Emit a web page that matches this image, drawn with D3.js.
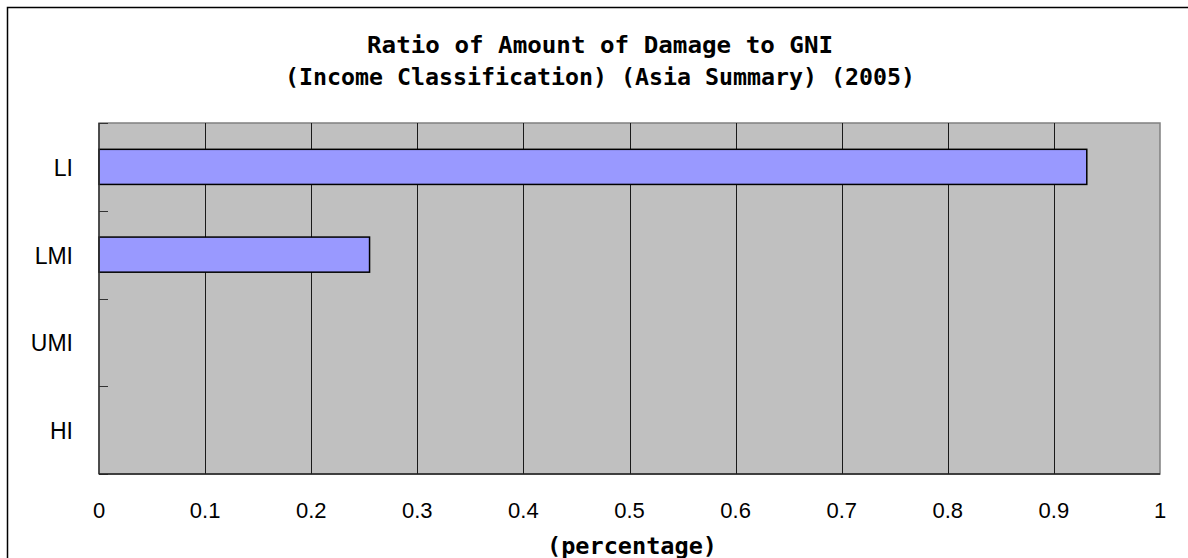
<!DOCTYPE html>
<html>
<head>
<meta charset="utf-8">
<script src="https://cdn.jsdelivr.net/npm/d3@7"></script>
<style>
  body { margin: 0; background: #fff; }
  svg { display: block; }
</style>
</head>
<body>
<script>
// chart data
var categories = ["LI", "LMI", "UMI", "HI"];
var values = [0.931, 0.255, null, null];
var xTicks = [0, 0.1, 0.2, 0.3, 0.4, 0.5, 0.6, 0.7, 0.8, 0.9, 1];
var titleLines = ["Ratio of Amount of Damage to GNI",
                  "(Income Classification) (Asia Summary) (2005)"];
var xTitle = "(percentage)";

var width = 1188, height = 558;
var plot = { left: 99, right: 1160, top: 123, bottom: 474 };

var svg = d3.select("body").append("svg")
    .attr("width", width)
    .attr("height", height);

// outer chart frame (runs off the right and bottom edge)
svg.append("rect")
    .attr("x", 7.5).attr("y", 7.5)
    .attr("width", 1200).attr("height", 600)
    .attr("fill", "#fff")
    .attr("stroke", "#000")
    .attr("stroke-width", 1.5);

var x = d3.scaleLinear().domain([0, 1]).range([plot.left, plot.right]);
var y = d3.scaleBand().domain(categories)
    .range([plot.top, plot.bottom])
    .paddingInner(0.6).paddingOuter(0.3);
var yEdges = d3.scaleBand().domain(categories).range([plot.top, plot.bottom]);

// plot background
svg.append("rect")
    .attr("x", plot.left).attr("y", plot.top)
    .attr("width", plot.right - plot.left)
    .attr("height", plot.bottom - plot.top)
    .attr("fill", "#c0c0c0")
    .attr("stroke", "#808080")
    .attr("stroke-width", 1.5);

// vertical grid lines
svg.append("g").selectAll("line")
    .data(xTicks.slice(1, -1))
    .join("line")
    .attr("x1", function (d) { return Math.round(x(d)) + 0.5; })
    .attr("x2", function (d) { return Math.round(x(d)) + 0.5; })
    .attr("y1", plot.top).attr("y2", plot.bottom)
    .attr("stroke", "#1a1a1a")
    .attr("stroke-width", 1);

// bars
svg.append("g").selectAll("rect")
    .data(categories.map(function (c, i) { return { c: c, v: values[i] }; })
        .filter(function (d) { return d.v != null; }))
    .join("rect")
    .attr("x", x(0))
    .attr("y", function (d) { return y(d.c); })
    .attr("width", function (d) { return x(d.v) - x(0); })
    .attr("height", y.bandwidth())
    .attr("fill", "#9999ff")
    .attr("stroke", "#000")
    .attr("stroke-width", 1.5);

// y axis with inward ticks at category edges
svg.append("line")
    .attr("x1", plot.left).attr("x2", plot.left)
    .attr("y1", plot.top).attr("y2", plot.bottom)
    .attr("stroke", "#333").attr("stroke-width", 1.5);
var edges = categories.map(function (c) { return yEdges(c); }).concat([plot.bottom]);
svg.append("g").selectAll("line")
    .data(edges)
    .join("line")
    .attr("x1", plot.left).attr("x2", plot.left + 9)
    .attr("y1", function (d) { return Math.round(d) + 0.5; })
    .attr("y2", function (d) { return Math.round(d) + 0.5; })
    .attr("stroke", "#333").attr("stroke-width", 1);

// x axis line
svg.append("line")
    .attr("x1", plot.left).attr("x2", plot.right)
    .attr("y1", plot.bottom).attr("y2", plot.bottom)
    .attr("stroke", "#222").attr("stroke-width", 1.5);

// category labels
svg.append("g").selectAll("text")
    .data(categories)
    .join("text")
    .attr("x", 73)
    .attr("y", function (d) { return yEdges(d) + yEdges.bandwidth() / 2 + 1; })
    .attr("text-anchor", "end")
    .attr("dominant-baseline", "central")
    .attr("font-family", "'Liberation Sans', Arial, sans-serif")
    .attr("font-size", 23)
    .attr("fill", "#000")
    .text(function (d) { return d; });

// x tick labels
svg.append("g").selectAll("text")
    .data(xTicks)
    .join("text")
    .attr("x", function (d) { return x(d); })
    .attr("y", 510)
    .attr("text-anchor", "middle")
    .attr("dominant-baseline", "central")
    .attr("font-family", "'Liberation Sans', Arial, sans-serif")
    .attr("font-size", 22)
    .attr("fill", "#000")
    .text(function (d) { return d3.format("")(d); });

// titles
var titleFont = "'DejaVu Sans Mono', 'Noto Sans CJK JP', monospace";
svg.append("g").selectAll("text")
    .data(titleLines)
    .join("text")
    .attr("x", 600)
    .attr("y", function (d, i) { return 45 + i * 32; })
    .attr("text-anchor", "middle")
    .attr("dominant-baseline", "central")
    .attr("font-family", titleFont)
    .attr("font-weight", "bold")
    .attr("font-size", 23)
    .attr("textLength", function (d, i) { return i === 0 ? 466 : 630; })
    .attr("lengthAdjust", "spacingAndGlyphs")
    .text(function (d) { return d; });

svg.append("text")
    .attr("x", 632)
    .attr("y", 546)
    .attr("text-anchor", "middle")
    .attr("dominant-baseline", "central")
    .attr("font-family", titleFont)
    .attr("font-weight", "bold")
    .attr("font-size", 23)
    .attr("textLength", 170)
    .attr("lengthAdjust", "spacingAndGlyphs")
    .text(xTitle);
</script>
</body>
</html>
